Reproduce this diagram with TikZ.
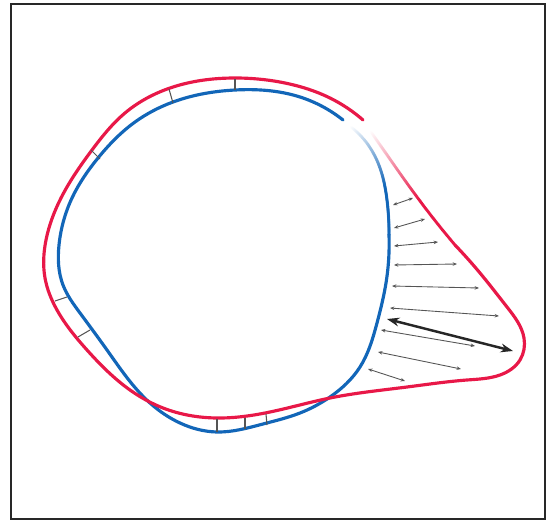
\documentclass[tikz,border=0pt]{standalone}
\usepackage{xcolor}
\usepackage{tikz}
\usetikzlibrary{arrows.meta,decorations.markings,hobby}

\definecolor{curvered}{RGB}{232,24,72}
\definecolor{curveblue}{RGB}{18,102,184}
\definecolor{gapgray}{RGB}{85,85,85}
\definecolor{framegray}{RGB}{40,40,40}

% a stroke that fades in from white, built from small dots
\tikzset{
  fadein/.style={decoration={markings,
      mark=between positions 0 and 1 step 0.35pt with {
        \pgfmathsetmacro\fadepct{min(100,100*\pgfkeysvalueof{/pgf/decoration/mark info/distance from start}/(0.6*\pgfdecoratedpathlength))}
        \fill[#1!\fadepct!white] (0,0) circle (0.9pt);
      }}, decorate},
}

\begin{document}
\begin{tikzpicture}[
    x=0.02cm, y=-0.02cm,
    use Hobby shortcut,
    redline/.style={draw=curvered, line width=1.8pt, line cap=round},
    blueline/.style={draw=curveblue, line width=1.8pt, line cap=round},
    gap/.style={draw=gapgray, line width=0.5pt, {Stealth[length=2.5pt,width=2pt]}-{Stealth[length=2.5pt,width=2pt]}},
    bigGap/.style={draw=black!85, line width=1.4pt, {Stealth[length=7pt,width=5pt]}-{Stealth[length=7pt,width=5pt]}},
    tick/.style={draw=gapgray, line width=0.6pt},
]

\useasboundingbox (0,0) rectangle (548,524);

% Frame
\draw[framegray, line width=1.2pt] (11,4) rectangle (545,519);

% Blue curve (inner)
\draw[blueline] (389,235) .. (386,283) .. (377,323) .. (360,367) .. (330,397) .. (300,413) .. (263,424) .. (217,432) .. (180,423) .. (150,403) .. (107,350) .. (80,313) .. (63,285) .. (59,245) .. (72,198) .. (98,158) .. (135,122) .. (173,102) .. (235,90) .. (300,97) .. (343,120);
\path[fadein=curveblue] (351,127) .. (366,142) .. (380,168) .. (387,200) .. (389,235);

% Red curve (outer)
\draw[redline] (455,245) .. (480,273) .. (507,307) .. (524,338) .. (520,360) .. (500,375) .. (467,380) .. (407,387) .. (330,398) .. (270,412) .. (217,418) .. (163,408) .. (130,390) .. (87,350) .. (57,310) .. (45,278) .. (46,240) .. (61,198) .. (92,150) .. (125,113) .. (170,88) .. (235,78) .. (285,83) .. (330,98) .. (363,120);
\path[fadein=curvered] (371,132) .. (385,152) .. (417,197) .. (455,245);

% Ticks between the curves
\draw[tick] (91,150) -- (100,159);
\draw[tick] (169,89) -- (173,103);
\draw[tick] (235,79) -- (235,90);
\draw[tick] (55,301) -- (67,297);
\draw[tick] (78,337) -- (90,330);
\draw[tick] (217,419) -- (217,432);
\draw[tick] (245,418) -- (245,429);
\draw[tick] (266,414) -- (267,425);

% Gap arrows
\draw[gap] (393,205) -- (413,198);
\draw[gap] (394,228) -- (425,219);
\draw[gap] (394,246) -- (438,242);
\draw[gap] (394,265) -- (457,264);
\draw[gap] (392,286) -- (479,288);
\draw[gap] (390,308) -- (499,316);
\draw[gap] (381,330) -- (475,346);
\draw[gap] (378,352) -- (461,369);
\draw[gap] (368,369) -- (405,381);
\draw[bigGap] (387,319) -- (513,351);

\end{tikzpicture}
\end{document}
